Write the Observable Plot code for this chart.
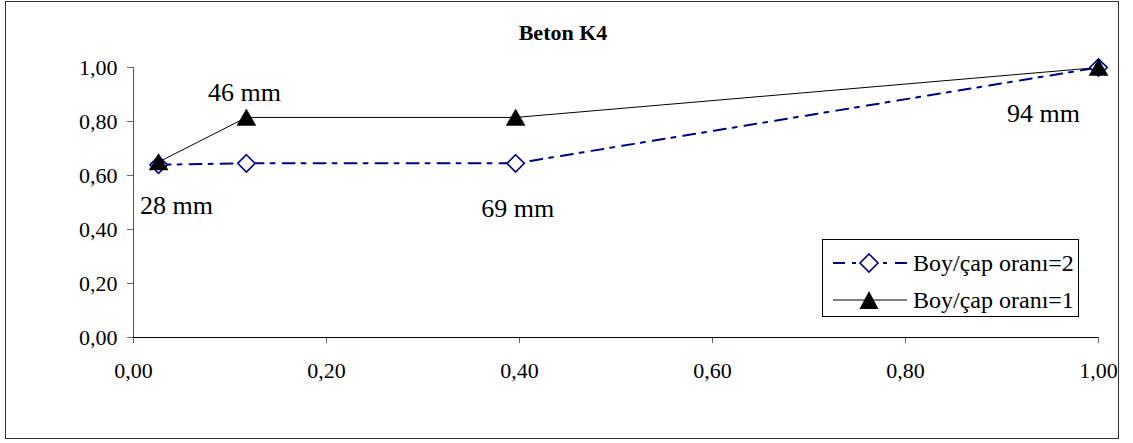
<!DOCTYPE html>
<html>
<head>
<meta charset="utf-8">
<script src="https://cdn.jsdelivr.net/npm/d3@7"></script>
<script src="https://cdn.jsdelivr.net/npm/@observablehq/plot@0.6"></script>
<style>
  html, body { margin: 0; padding: 0; background: #fff; }
  #wrap { position: relative; width: 1133px; height: 443px; font-family: "Liberation Serif", serif; }
  #frame { position: absolute; left: 5px; top: 1px; width: 1114px; height: 438px; box-sizing: border-box; border: 1.5px solid #333; pointer-events: none; }
  #title { position: absolute; left: 463px; width: 200px; top: 19px; text-align: center; font-weight: bold; font-size: 22px; line-height: 28px; color: #000; }
  #legend { position: absolute; left: 822px; top: 239px; width: 257px; height: 78px; box-sizing: border-box; border: 1px solid #000; background: #fff; }
  .lrow { position: absolute; left: 0; height: 30px; width: 255px; }
  .lrow svg { position: absolute; left: 9px; top: 0; }
  .lrow span { position: absolute; left: 90px; top: 0; font-size: 24px; line-height: 30px; white-space: nowrap; color: #000; }
</style>
</head>
<body>
<div id="wrap">
  <div id="chart"></div>
  <div id="title"></div>
  <div id="legend"></div>
  <div id="frame"></div>
</div>
<script>
// ---- data ----
const xValues = [0.026, 0.117, 0.396, 1.0];           // relative size
const diameters = ["28 mm", "46 mm", "69 mm", "94 mm"];
const ratio2 = [0.640, 0.645, 0.645, 1.0];             // Boy/çap oranı=2
const ratio1 = [0.650, 0.815, 0.815, 1.0];             // Boy/çap oranı=1
const seriesNames = ["Boy/çap oranı=2", "Boy/çap oranı=1"];
const xTicks = [0, 0.2, 0.4, 0.6, 0.8, 1.0];
const yTicks = [0, 0.2, 0.4, 0.6, 0.8, 1.0];
const chartTitle = "Beton K4";

const fmt = d => d.toFixed(2).replace(".", ",");
const d2 = xValues.map((x, i) => ({x, y: ratio2[i], label: diameters[i]}));
const d1 = xValues.map((x, i) => ({x, y: ratio1[i], label: diameters[i]}));

const navy = "#000080";
const serif = "Liberation Serif";
const labelFont = 26;
const dashDot = "12,7,4,8";

const chart = Plot.plot({
  width: 1133,
  height: 443,
  marginLeft: 133,
  marginRight: 35,
  marginTop: 67,
  marginBottom: 106,
  style: {fontFamily: serif, fontSize: "22px", background: "white", color: "black"},
  x: {domain: [0, 1]},
  y: {domain: [0, 1]},
  marks: [
    Plot.axisY({ticks: yTicks, tickFormat: fmt, tickSize: 6, tickPadding: 10, stroke: "#666", label: null, fontFamily: serif, fontSize: 22, fill: "#000"}),
    Plot.axisX({ticks: xTicks, tickFormat: fmt, tickSize: 6, tickPadding: 19, stroke: "#666", label: null, fontFamily: serif, fontSize: 22, fill: "#000"}),
    Plot.ruleX([0], {stroke: "#555", strokeWidth: 1}),
    Plot.ruleY([0], {stroke: "#000", strokeWidth: 1.2}),
    Plot.line(d2, {x: "x", y: "y", stroke: navy, strokeWidth: 2, strokeDasharray: dashDot}),
    Plot.line(d1, {x: "x", y: "y", stroke: "#000", strokeWidth: 1}),
    Plot.dot(d2, {x: "x", y: "y", symbol: "diamond2", r: 7.8, stroke: navy, strokeWidth: 1.6, fill: "white"}),
    Plot.dot(d1, {x: "x", y: "y", symbol: "triangle", r: 7, fill: "#000", stroke: "#000", strokeWidth: 0.5, dy: 2.5}),
    // diameter labels
    Plot.text(d2.filter((d, i) => i === 0), {x: "x", y: "y", text: "label", dx: 18, dy: 41, fontSize: labelFont, fontFamily: serif, fill: "#000"}),
    Plot.text(d1.filter((d, i) => i === 1), {x: "x", y: "y", text: "label", dx: -2, dy: -25, fontSize: labelFont, fontFamily: serif, fill: "#000"}),
    Plot.text(d2.filter((d, i) => i === 2), {x: "x", y: "y", text: "label", dx: 2, dy: 45, fontSize: labelFont, fontFamily: serif, fill: "#000"}),
    Plot.text(d1.filter((d, i) => i === 3), {x: "x", y: "y", text: "label", dx: -55, dy: 46, fontSize: labelFont, fontFamily: serif, fill: "#000"})
  ]
});
document.getElementById("chart").appendChild(chart);
document.getElementById("title").textContent = chartTitle;

// legend
const legend = document.getElementById("legend");
const rows = [
  {name: seriesNames[0], top: 8, svg: `<svg width="76" height="30"><line x1="1" y1="15" x2="75" y2="15" stroke="${navy}" stroke-width="2" stroke-dasharray="${dashDot}"/><path d="M37,6 L46,15 L37,24 L28,15 Z" fill="white" stroke="${navy}" stroke-width="1.6"/></svg>`},
  {name: seriesNames[1], top: 45, svg: `<svg width="76" height="30"><line x1="1" y1="15" x2="75" y2="15" stroke="#000" stroke-width="1"/><path d="M37,6 L46.5,24 L27.5,24 Z" fill="#000"/></svg>`}
];
rows.forEach(r => {
  const div = document.createElement("div");
  div.className = "lrow";
  div.style.top = r.top + "px";
  div.innerHTML = r.svg + `<span>${r.name}</span>`;
  legend.appendChild(div);
});
</script>
</body>
</html>
